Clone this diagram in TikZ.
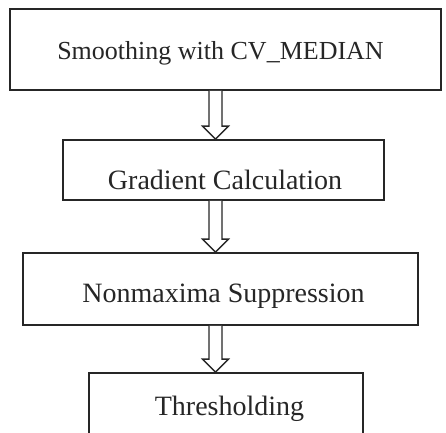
\documentclass[tikz,border=0pt]{standalone}
\usepackage{fontspec}
\setmainfont{Liberation Serif}
\usetikzlibrary{calc}
\begin{document}
\begin{tikzpicture}[x=1pt,y=-1pt,
  box/.style={draw=black!85, line width=1.8pt, rectangle, inner sep=0pt},
  lbl/.style={font=\fontsize{28}{32}\selectfont, text=black!85, anchor=base, inner sep=0pt},
  hollow/.style={draw=black!85, line width=1.4pt, fill=white, line join=miter}]
\useasboundingbox (0,0) rectangle (446,432);
\clip (0,0) rectangle (446,432);
\coordinate (ax) at (215.5,0);
% boxes
\node[box, minimum width=431pt, minimum height=81pt] (b1) at (225.5,49.5) {};
\node[box, minimum width=321pt, minimum height=60pt] (b2) at (223.5,170) {};
\node[box, minimum width=395pt, minimum height=72pt] (b3) at (220.5,289) {};
\node[box, minimum width=274pt, minimum height=90pt] (b4) at (226,418) {};
% hollow arrows
\foreach \s/\t in {b1/b2, b2/b3, b3/b4}{
  \coordinate (st) at (\s.south -| ax);
  \coordinate (en) at (\t.north -| ax);
  \draw[hollow] ($(st)+(-6.5,0)$) -- ($(en)+(-6.5,-13)$) -- ($(en)+(-13,-13)$) -- (en)
     -- ($(en)+(13,-13)$) -- ($(en)+(6.5,-13)$) -- ($(st)+(6.5,0)$);
}
% labels
\node[lbl, font=\fontsize{26}{30}\selectfont] (t1) at (220.5,59) {Smoothing with CV\_MEDIAN};
\node[lbl] (t2) at (225,189) {Gradient Calculation};
\node[lbl] (t3) at (223.5,302) {Nonmaxima Suppression};
\node[lbl] (t4) at (229.5,415) {Thresholding};
\end{tikzpicture}
\end{document}
